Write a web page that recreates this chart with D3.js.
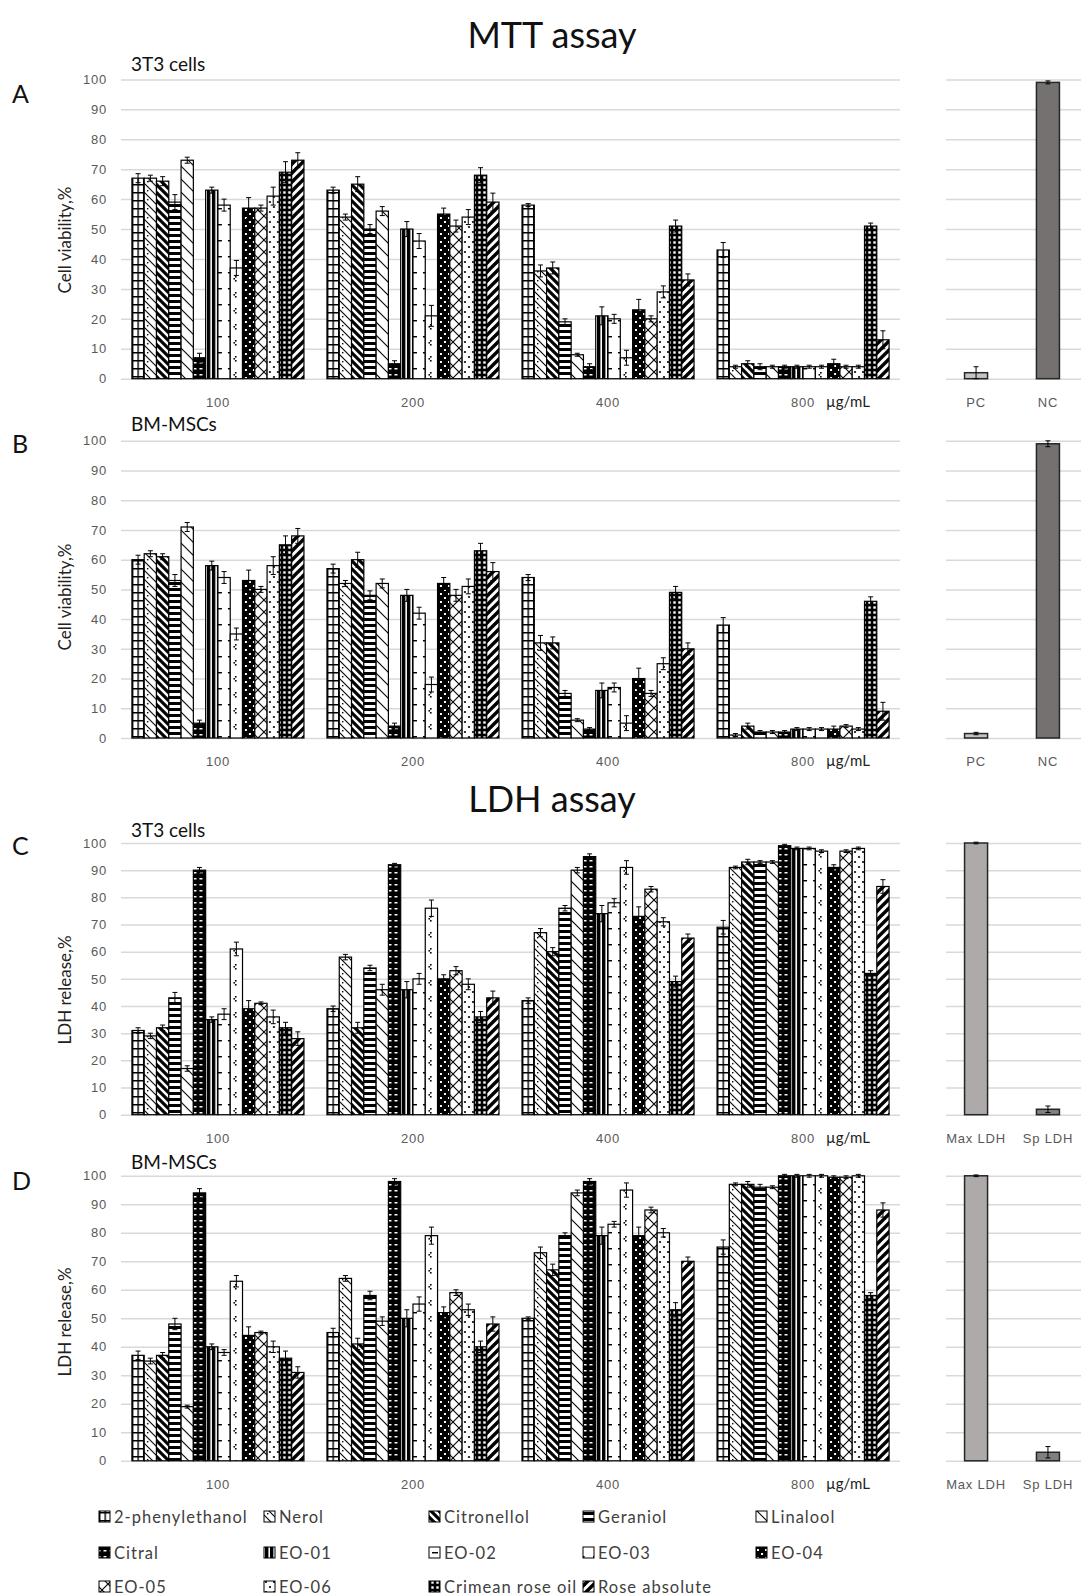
<!DOCTYPE html>
<html><head><meta charset="UTF-8"><title>MTT and LDH assay</title>
<script src="https://cdn.jsdelivr.net/npm/d3@7"></script>
<style>
  body { margin: 0; background: #fff; font-family: Lato, "Open Sans", sans-serif; }
  .tick text { fill: #595959; font-size: 13px; letter-spacing: 0.8px; }
</style>
</head>
<body>
<div id="chart"></div>
<script>
// categories
const concentrations = ["100", "200", "400", "800"];
const samples = ["2-phenylethanol", "Nerol", "Citronellol", "Geraniol", "Linalool",
  "Citral", "EO-01", "EO-02", "EO-03", "EO-04", "EO-05", "EO-06", "Crimean rose oil", "Rose absolute"];
const yTicks = [0, 10, 20, 30, 40, 50, 60, 70, 80, 90, 100];
const mttControls = ["PC", "NC"];
const ldhControls = ["Max LDH", "Sp LDH"];

// A: MTT, 3T3 cells (rows = concentration, cols = sample)
const mtt3T3 = [
  [67, 67, 66, 59, 73, 7, 63, 58, 37, 57, 57, 61, 69, 73],
  [63, 54, 65, 50, 56, 5, 50, 46, 21, 55, 51, 54, 68, 59],
  [58, 36, 37, 19, 8, 4, 21, 20, 7, 23, 20, 29, 51, 33],
  [43, 4, 5, 4, 4, 4, 4, 4, 4, 5, 4, 4, 51, 13]
];
const mtt3T3Err = [
  [1.5, 1, 1.5, 2.5, 1, 1.5, 1, 2, 2.5, 3.5, 1, 3, 3.5, 2.5],
  [1, 1, 2.5, 1.5, 1.5, 1, 2.5, 2.5, 3.5, 2, 2, 2.5, 2.5, 3],
  [0.5, 2, 2, 1, 0.5, 1, 3, 1.5, 2.5, 3.5, 1, 2, 2, 2],
  [2.5, 0.5, 1, 1, 0.5, 0.5, 0.5, 0.5, 0.5, 1.5, 0.5, 0.5, 1, 3]
];
const mtt3T3Ctrl = [2, 99];
const mtt3T3CtrlErr = [2, 0.5];

// B: MTT, BM-MSCs
const mttMsc = [
  [60, 62, 61, 53, 71, 5, 58, 54, 35, 53, 50, 58, 65, 68],
  [57, 52, 60, 48, 52, 4, 48, 42, 18, 52, 48, 51, 63, 56],
  [54, 32, 32, 15, 6, 3, 16, 17, 5, 20, 15, 25, 49, 30],
  [38, 1, 4, 2, 2, 2, 3, 3, 3, 3, 4, 3, 46, 9]
];
const mttMscErr = [
  [1.5, 1, 1, 2, 1.5, 1, 1.5, 2, 2, 3.5, 1, 3, 3, 2.5],
  [1.5, 1, 2.5, 1.5, 1.5, 1, 2, 2, 2.5, 2, 2, 2.5, 2.5, 3],
  [1, 2.5, 2, 1, 0.5, 0.5, 2.5, 1.5, 2.5, 3.5, 1, 2, 2, 2],
  [2.5, 0.5, 1, 0.5, 0.5, 0.5, 0.5, 0.5, 0.5, 1, 0.5, 0.5, 1.5, 3]
];
const mttMscCtrl = [1.5, 99];
const mttMscCtrlErr = [0.4, 1];

// C: LDH, 3T3 cells
const ldh3T3 = [
  [31, 29, 32, 43, 17, 90, 35, 37, 61, 39, 41, 36, 32, 28],
  [39, 58, 32, 54, 46, 92, 46, 50, 76, 50, 53, 48, 36, 43],
  [42, 67, 60, 76, 90, 95, 74, 78, 91, 73, 83, 71, 49, 65],
  [69, 91, 93, 93, 93, 99, 98, 98, 97, 91, 97, 98, 52, 84]
];
const ldh3T3Err = [
  [1, 1, 1, 2, 1, 1, 1, 2, 2.5, 3, 0.5, 2.5, 2, 2.5],
  [1, 1, 2, 1, 2, 0.5, 3, 2, 3, 1.5, 1.5, 2, 2, 2.5],
  [1, 1.5, 1.5, 1, 1, 1, 3, 1.5, 2.5, 3.5, 1, 1.5, 2, 1.5],
  [2.5, 0.5, 1, 0.5, 0.5, 0.5, 0.5, 0.5, 0.5, 1, 0.5, 0.5, 1, 2.5]
];
const ldh3T3Ctrl = [100, 2];
const ldh3T3CtrlErr = [0.3, 1.2];

// D: LDH, BM-MSCs
const ldhMsc = [
  [37, 35, 37, 48, 19, 94, 40, 38, 63, 44, 45, 40, 36, 31],
  [45, 64, 41, 58, 49, 98, 50, 55, 79, 52, 59, 53, 40, 48],
  [50, 73, 67, 79, 94, 98, 79, 83, 95, 79, 88, 80, 53, 70],
  [75, 97, 97, 96, 96, 100, 100, 100, 100, 99.5, 99.5, 100, 58, 88]
];
const ldhMscErr = [
  [1.5, 1, 1, 2, 0.5, 1.5, 1, 1, 2, 3, 0.5, 2, 2.5, 2],
  [1.5, 1, 2, 1.5, 1.5, 1, 3, 2.5, 3, 2, 1, 2, 2, 2.5],
  [0.5, 2, 2, 1, 1, 1, 3, 1, 2.5, 3, 1, 1.5, 2.5, 1.5],
  [2.5, 0.5, 1, 1, 0.5, 0.5, 0.5, 0.5, 0.5, 0.5, 0.5, 0.5, 1, 2.5]
];
const ldhMscCtrl = [100, 3];
const ldhMscCtrlErr = [0.3, 2];

const W = 1081, H = 1596;
const left = 121, right = 900, ctrlLeft = 946, ctrlRight = 1081;

const panels = [
  { letter: "A", letterY: 103, cells: "3T3 cells", cellsY: 71, top: 79.4, bottom: 378.7, title: "Cell viability,%", titleY: 240,
    data: mtt3T3, err: mtt3T3Err, ctrl: mtt3T3Ctrl, ctrlErr: mtt3T3CtrlErr, ctrlNames: mttControls, ctrlColors: ["#c4c4c4", "#767171"] },
  { letter: "B", letterY: 453, cells: "BM-MSCs", cellsY: 431, top: 440.8, bottom: 738, title: "Cell viability,%", titleY: 597,
    data: mttMsc, err: mttMscErr, ctrl: mttMscCtrl, ctrlErr: mttMscCtrlErr, ctrlNames: mttControls, ctrlColors: ["#c4c4c4", "#767171"] },
  { letter: "C", letterY: 855, cells: "3T3 cells", cellsY: 837, top: 843, bottom: 1114.7, title: "LDH release,%", titleY: 990,
    data: ldh3T3, err: ldh3T3Err, ctrl: ldh3T3Ctrl, ctrlErr: ldh3T3CtrlErr, ctrlNames: ldhControls, ctrlColors: ["#aeaaaa", "#7f7f7f"] },
  { letter: "D", letterY: 1190, cells: "BM-MSCs", cellsY: 1169, top: 1175.8, bottom: 1460.8, title: "LDH release,%", titleY: 1322,
    data: ldhMsc, err: ldhMscErr, ctrl: ldhMscCtrl, ctrlErr: ldhMscCtrlErr, ctrlNames: ldhControls, ctrlColors: ["#aeaaaa", "#7f7f7f"] }
];

const svg = d3.select("#chart").append("svg").attr("width", W).attr("height", H);
const defs = svg.append("defs");

// fill patterns, one per sample
function pattern(id, w, h, bg, draw) {
  const p = defs.append("pattern").attr("id", id)
    .attr("patternUnits", "userSpaceOnUse").attr("width", w).attr("height", h);
  p.append("rect").attr("width", w).attr("height", h).attr("fill", bg);
  draw(p);
}
const patternDraws = [
  p => { pattern(p, 5.5, 8, "#fff", q => q.append("path").attr("d", "M0.7,0V8M0,0.7H5.5").attr("stroke", "#000").attr("stroke-width", 1.4)); },
  p => { pattern(p, 9, 9, "#fff", q => { q.append("path").attr("d", "M0,0L9,9M-1,8L1,10M8,-1L10,1").attr("stroke", "#000").attr("stroke-width", 1.1); q.append("rect").attr("x", 6).attr("y", 1).attr("width", 1.4).attr("height", 1.4); }); },
  p => { pattern(p, 8, 8, "#fff", q => q.append("path").attr("d", "M-2,-2L10,10M-2,6L2,10M6,-2L10,2").attr("stroke", "#000").attr("stroke-width", 3.2)); },
  p => { pattern(p, 6, 6, "#fff", q => q.append("rect").attr("width", 6).attr("height", 3).attr("fill", "#000")); },
  p => { pattern(p, 13, 13, "#fff", q => q.append("path").attr("d", "M0,0L13,13M-1,12L1,14M12,-1L14,1").attr("stroke", "#000").attr("stroke-width", 1.1)); },
  p => { pattern(p, 6, 6, "#000", q => q.append("rect").attr("x", 1.5).attr("y", 2).attr("width", 3).attr("height", 1.5).attr("fill", "#fff")); },
  p => { pattern(p, 5, 5, "#fff", q => q.append("rect").attr("width", 3.4).attr("height", 5).attr("fill", "#000")); },
  p => { pattern(p, 12, 16, "#fff", q => q.append("path").attr("d", "M0,0.7H6").attr("stroke", "#000").attr("stroke-width", 1.5)); },
  p => { pattern(p, 10, 16, "#fff", q => { q.append("rect").attr("x", 3).attr("y", 4).attr("width", 1.6).attr("height", 1.6); q.append("rect").attr("x", 1.5).attr("y", 6).attr("width", 1.6).attr("height", 1.6); q.append("rect").attr("x", 3).attr("y", 8).attr("width", 1.6).attr("height", 1.6); }); },
  p => { pattern(p, 8, 8, "#000", q => { q.append("rect").attr("x", 1).attr("y", 1).attr("width", 2).attr("height", 2).attr("fill", "#fff"); q.append("rect").attr("x", 5).attr("y", 5).attr("width", 2).attr("height", 2).attr("fill", "#fff"); }); },
  p => { pattern(p, 12, 12, "#fff", q => q.append("path").attr("d", "M0,0L12,12M12,0L0,12").attr("stroke", "#000").attr("stroke-width", 1.1)); },
  p => { pattern(p, 8, 10, "#fff", q => { q.append("circle").attr("cx", 2).attr("cy", 2).attr("r", 1.1); q.append("circle").attr("cx", 6).attr("cy", 7).attr("r", 1.1); }); },
  p => { pattern(p, 5, 5, "#000", q => q.append("rect").attr("x", 1.3).attr("y", 1.3).attr("width", 2.4).attr("height", 2.4).attr("fill", "#fff")); },
  p => { pattern(p, 9, 9, "#fff", q => q.append("path").attr("d", "M-2,11L11,-2M-2,2L2,-2M7,11L11,7").attr("stroke", "#000").attr("stroke-width", 3.4)); }
];
patternDraws.forEach((f, j) => f("pat" + j));

const x0 = d3.scaleBand().domain(concentrations).range([left, right]).paddingInner(0.118).paddingOuter(0.056);
const x1 = d3.scaleBand().domain(samples).range([0, x0.bandwidth()]);

function errorBar(g, cx, y, v, e) {
  const lo = y(Math.max(0, v - e)), hi = y(Math.min(100.5, v + e));
  g.append("path").attr("d", `M${cx},${lo}V${hi}M${cx - 2.5},${hi}H${cx + 2.5}M${cx - 2.5},${lo}H${cx + 2.5}`)
    .attr("stroke", "#000").attr("stroke-width", 1).attr("fill", "none");
}

panels.forEach(pn => {
  const y = d3.scaleLinear().domain([0, 100]).range([pn.bottom, pn.top]);
  const g = svg.append("g");

  // gridlines + y labels
  const ax = g.append("g").attr("transform", `translate(${left},0)`)
    .call(d3.axisLeft(y).tickValues(yTicks).tickSize(-(right - left)).tickPadding(14));
  ax.select(".domain").remove();
  ax.selectAll(".tick line").attr("stroke", "#d9d9d9").attr("stroke-width", 1.5);

  const axr = g.append("g").attr("transform", `translate(${ctrlLeft},0)`)
    .call(d3.axisLeft(y).tickValues(yTicks).tickSize(-(ctrlRight - ctrlLeft)).tickFormat(""));
  axr.select(".domain").remove();
  axr.selectAll(".tick line").attr("stroke", "#d9d9d9").attr("stroke-width", 1.5);

  // x labels
  const bx = g.append("g").attr("transform", `translate(0,${pn.bottom})`)
    .call(d3.axisBottom(x0).tickSize(0).tickPadding(19));
  bx.select(".domain").remove();
  g.append("text").attr("x", x0("800") + x0.bandwidth() / 2 + 23).attr("y", pn.bottom + 28)
    .attr("font-size", 15).attr("fill", "#222").text("µg/mL");

  // bars
  pn.data.forEach((row, i) => {
    const gg = g.append("g").attr("transform", `translate(${x0(concentrations[i])},0)`);
    gg.selectAll("rect").data(row).join("rect")
      .attr("x", (d, j) => x1(samples[j]))
      .attr("y", d => y(d))
      .attr("width", x1.bandwidth())
      .attr("height", d => y(0) - y(d))
      .attr("fill", (d, j) => `url(#pat${j})`)
      .attr("stroke", "#000").attr("stroke-width", 1.2);
    row.forEach((v, j) => errorBar(gg, x1(samples[j]) + x1.bandwidth() / 2, y, v, pn.err[i][j]));
  });

  // controls
  const xc = d3.scaleBand().domain(pn.ctrlNames).range([ctrlLeft - 3, ctrlRight]).paddingInner(0.68).paddingOuter(0.3);
  g.selectAll("rect.ctrl").data(pn.ctrl).join("rect").attr("class", "ctrl")
    .attr("x", (d, k) => xc(pn.ctrlNames[k]))
    .attr("y", d => y(d))
    .attr("width", xc.bandwidth())
    .attr("height", d => y(0) - y(d))
    .attr("fill", (d, k) => pn.ctrlColors[k])
    .attr("stroke", "#262626").attr("stroke-width", 1.5);
  pn.ctrl.forEach((v, k) => errorBar(g, xc(pn.ctrlNames[k]) + xc.bandwidth() / 2, y, v, pn.ctrlErr[k]));
  const cx = g.append("g").attr("transform", `translate(0,${pn.bottom})`)
    .call(d3.axisBottom(xc).tickSize(0).tickPadding(19));
  cx.select(".domain").remove();

  // titles
  g.append("text").attr("x", 12).attr("y", pn.letterY).attr("font-size", 25).attr("fill", "#111").text(pn.letter);
  g.append("text").attr("x", 131).attr("y", pn.cellsY).attr("font-size", 19).attr("fill", "#111").text(pn.cells);
  g.append("text").attr("transform", `translate(71,${pn.titleY}) rotate(-90)`).attr("text-anchor", "middle")
    .attr("font-size", 17).attr("fill", "#222").text(pn.title);
});

svg.append("text").attr("x", 552).attr("y", 48).attr("text-anchor", "middle").attr("font-size", 36).attr("fill", "#111").text("MTT assay");
svg.append("text").attr("x", 552).attr("y", 812).attr("text-anchor", "middle").attr("font-size", 36).attr("fill", "#111").text("LDH assay");

// legend
const legendCols = [99, 264, 429, 583, 756];
const legendRows = [1517, 1553, 1587];
const lg = svg.append("g");
samples.forEach((s, j) => {
  const cx = legendCols[j % 5], cy = legendRows[Math.floor(j / 5)];
  lg.append("rect").attr("x", cx).attr("y", cy - 6).attr("width", 11).attr("height", 11)
    .attr("fill", `url(#pat${j})`).attr("stroke", "#000").attr("stroke-width", 1);
  lg.append("text").attr("x", cx + 15).attr("y", cy + 5.5).attr("font-size", 16.5).attr("letter-spacing", 1)
    .attr("fill", "#404040").text(s);
});
</script>
</body>
</html>
